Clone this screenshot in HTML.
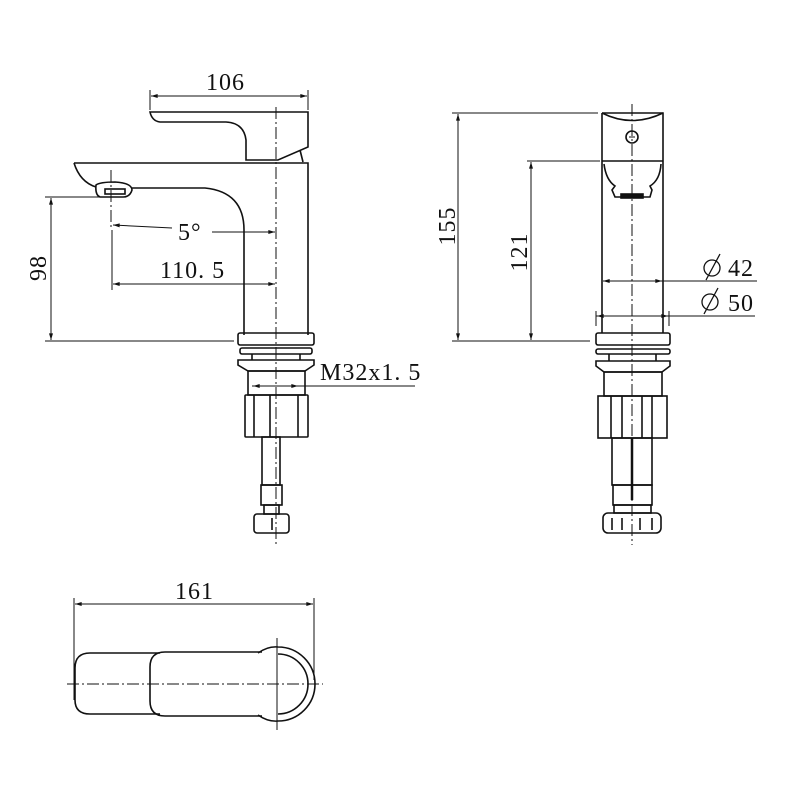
<!DOCTYPE html>
<html><head><meta charset="utf-8"><style>
html,body{margin:0;padding:0;background:#fff;}
svg{display:block;}
text{font-family:"Liberation Serif",serif;font-size:24px;letter-spacing:1px;fill:#111;}
</style></head><body>
<svg width="800" height="800" viewBox="0 0 800 800" xmlns="http://www.w3.org/2000/svg">
<defs>
<marker id="a" viewBox="0 0 10 6" refX="10" refY="3" markerWidth="8" markerHeight="4" orient="auto-start-reverse"><path d="M0,0 L10,3 L0,6 z" fill="#111"/></marker>
</defs>
<g fill="none" stroke="#111" stroke-width="1.6">
<path d="M150,112 L308,112 L308,147 L278,160 L246,160 L246,140 Q244,123 226,122 L160,122 Q152,121 150,112 Z"/>
<path d="M300,150 L303,162"/>
<path d="M74,163 L308,163 L308,335"/>
<path d="M74,163 Q80,182 96,187"/>
<path d="M132,188 L205,188 Q244,192 244,230 L244,335"/>
<path d="M96,185 Q100,182 115,182 Q132,183 132,190 Q130,197 123,197 L100,197 Q95,195 96,185 Z"/>
<rect x="105" y="189" width="20" height="5"/>
<rect x="238" y="333" width="76" height="12" rx="2"/>
<rect x="240" y="348" width="72" height="6" rx="2"/>
<line x1="252" y1="354" x2="252" y2="360"/><line x1="300" y1="354" x2="300" y2="360"/>
<path d="M238,360 L314,360 L314,365 L305,371 L248,371 L238,365 Z"/>
<rect x="248" y="371" width="57" height="24"/>
<rect x="245" y="395" width="63" height="42" rx="1"/>
<line x1="254" y1="395" x2="254" y2="437"/><line x1="270" y1="395" x2="270" y2="437"/><line x1="298" y1="395" x2="298" y2="437"/>
<rect x="262" y="437" width="18" height="48"/>
<rect x="261" y="485" width="21" height="20"/>
<rect x="264" y="505" width="15" height="9"/>
<rect x="254" y="514" width="35" height="19" rx="3"/>
<line x1="272" y1="518" x2="272" y2="530"/>
<line x1="276" y1="107" x2="276" y2="545" stroke-width="1" stroke-dasharray="12,3,2,3"/>
<line x1="111" y1="170" x2="111" y2="230" stroke-width="1" stroke-dasharray="12,3,2,3"/>
<line x1="150" y1="90" x2="150" y2="110" stroke-width="1"/>
<line x1="308" y1="90" x2="308" y2="110" stroke-width="1"/>
<line x1="151" y1="96" x2="307" y2="96" stroke-width="1" marker-start="url(#a)" marker-end="url(#a)"/>
<line x1="112" y1="230" x2="112" y2="290" stroke-width="1"/>
<line x1="113" y1="225" x2="172" y2="228" stroke-width="1" marker-start="url(#a)"/>
<line x1="212" y1="232" x2="275" y2="232" stroke-width="1" marker-end="url(#a)"/>
<line x1="113" y1="284" x2="275" y2="284" stroke-width="1" marker-start="url(#a)" marker-end="url(#a)"/>
<line x1="45" y1="197" x2="100" y2="197" stroke-width="1"/>
<line x1="45" y1="341" x2="234" y2="341" stroke-width="1"/>
<line x1="51" y1="198" x2="51" y2="340" stroke-width="1" marker-start="url(#a)" marker-end="url(#a)"/>
<line x1="252" y1="386" x2="415" y2="386" stroke-width="1"/>
<line x1="253" y1="386" x2="268" y2="386" stroke-width="1" marker-start="url(#a)"/>
<line x1="284" y1="386" x2="298" y2="386" stroke-width="1" marker-end="url(#a)"/>

<path d="M602,113 L663,113 L663,333 M602,113 L602,333"/>
<path d="M602,113 Q632,128 663,113"/>
<path d="M602,161 L663,161"/>
<path d="M604,164 Q606,180 615,186 L612,190 L615,197 L650,197 L652,190 L650,186 Q660,180 661,164"/>
<rect x="621" y="194" width="22" height="4" fill="#111"/>
<circle cx="632" cy="137" r="6"/>
<line x1="629" y1="137" x2="635" y2="137" stroke-width="1"/>
<rect x="596" y="333" width="74" height="12" rx="2"/>
<rect x="596" y="349" width="74" height="5" rx="2"/>
<line x1="609" y1="354" x2="609" y2="361"/><line x1="656" y1="354" x2="656" y2="361"/>
<path d="M596,361 L670,361 L670,366 L662,372 L604,372 L596,366 Z"/>
<rect x="604" y="372" width="58" height="24"/>
<rect x="598" y="396" width="69" height="42"/>
<line x1="611" y1="396" x2="611" y2="438"/><line x1="622" y1="396" x2="622" y2="438"/><line x1="642" y1="396" x2="642" y2="438"/><line x1="652" y1="396" x2="652" y2="438"/>
<rect x="612" y="438" width="40" height="47"/>
<rect x="613" y="485" width="39" height="20"/>
<rect x="614" y="505" width="37" height="8"/>
<rect x="603" y="513" width="58" height="20" rx="5"/>
<line x1="612" y1="518" x2="612" y2="530"/><line x1="622" y1="518" x2="622" y2="530"/><line x1="640" y1="518" x2="640" y2="530"/><line x1="652" y1="518" x2="652" y2="530"/>
<line x1="632" y1="438" x2="632" y2="500" stroke-width="2.5"/>
<line x1="632" y1="104" x2="632" y2="545" stroke-width="1" stroke-dasharray="12,3,2,3"/>
<line x1="452" y1="113" x2="598" y2="113" stroke-width="1"/>
<line x1="452" y1="341" x2="590" y2="341" stroke-width="1"/>
<line x1="458" y1="114" x2="458" y2="340" stroke-width="1" marker-start="url(#a)" marker-end="url(#a)"/>
<line x1="527" y1="161" x2="600" y2="161" stroke-width="1"/>
<line x1="531" y1="162" x2="531" y2="340" stroke-width="1" marker-start="url(#a)" marker-end="url(#a)"/>
<line x1="603" y1="281" x2="757" y2="281" stroke-width="1"/>
<line x1="603" y1="281" x2="618" y2="281" stroke-width="1" marker-start="url(#a)"/>
<line x1="645" y1="281" x2="662" y2="281" stroke-width="1" marker-end="url(#a)"/>
<line x1="596" y1="316" x2="755" y2="316" stroke-width="1"/>
<line x1="596" y1="311" x2="596" y2="326" stroke-width="1"/>
<line x1="669" y1="311" x2="669" y2="326" stroke-width="1"/>
<line x1="597" y1="316" x2="602" y2="316" stroke-width="1" marker-start="url(#a)"/>
<line x1="662" y1="316" x2="668" y2="316" stroke-width="1" marker-end="url(#a)"/>
<circle cx="712" cy="268" r="8" stroke-width="1.3"/><line x1="706" y1="280" x2="720" y2="254" stroke-width="1.3"/>
<circle cx="710" cy="302" r="8" stroke-width="1.3"/><line x1="704" y1="314" x2="718" y2="288" stroke-width="1.3"/>

<line x1="74" y1="598" x2="74" y2="700" stroke-width="1"/>
<line x1="314" y1="598" x2="314" y2="680" stroke-width="1"/>
<line x1="75" y1="604" x2="313" y2="604" stroke-width="1" marker-start="url(#a)" marker-end="url(#a)"/>
<path d="M160,653 L90,653 Q75,653 75,668 L75,700 Q75,714 90,714 L160,714"/>
<path d="M262,652 L165,652 Q150,652 150,667 L150,701 Q150,716 165,716 L262,716"/>
<path d="M258,653 Q268,646 278,647 A37,37 0 0 1 278,721 Q268,722 258,715"/>
<path d="M278,654 A30,30 0 0 1 278,714"/>
<line x1="67" y1="684" x2="323" y2="684" stroke-width="1" stroke-dasharray="12,3,2,3"/>
<line x1="277" y1="638" x2="277" y2="730" stroke-width="1"/>
</g>
<text x="206" y="90">106</text>
<text x="178" y="240">5°</text>
<text x="160" y="278">110. 5</text>
<text x="320" y="380">M32x1. 5</text>
<text transform="translate(46,268) rotate(-90)" text-anchor="middle">98</text>
<text transform="translate(455,226) rotate(-90)" text-anchor="middle">155</text>
<text transform="translate(527,252) rotate(-90)" text-anchor="middle">121</text>
<text x="728" y="276">42</text>
<text x="728" y="311">50</text>
<text x="175" y="599">161</text>
</svg>
</body></html>
